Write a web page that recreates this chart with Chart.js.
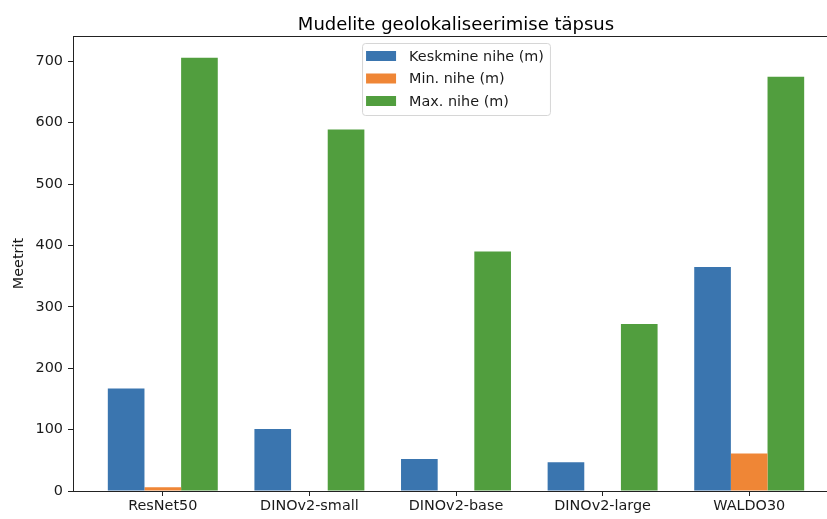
<!DOCTYPE html>
<html>
<head>
<meta charset="utf-8">
<script src="https://cdn.jsdelivr.net/npm/chart.js@4/dist/chart.umd.min.js"></script>
<style>
html, body { margin: 0; padding: 0; overflow: hidden; background: #fff; }
#wrap { width: 839px; height: 519px; }
</style>
</head>
<body>
<div id="wrap"><canvas id="c" width="839" height="519"></canvas></div>
<script>
const categories = ["ResNet50", "DINOv2-small", "DINOv2-base", "DINOv2-large", "WALDO30"];
const meanShift = [167, 101, 52, 47, 365];
const minShift = [6, 0, 0, 0, 61];
const maxShift = [706, 589, 390, 272, 675];
const seriesLabels = ["Keskmine nihe (m)", "Min. nihe (m)", "Max. nihe (m)"];
const yTicks = [0, 100, 200, 300, 400, 500, 600, 700];
const chartTitle = "Mudelite geolokaliseerimise täpsus";
const yTitle = "Meetrit";

const colors = ["#3a75af", "#ef8636", "#519e3e"];
const FONT = "'DejaVu Sans', sans-serif";
const TXT = "#1a1a1a";
const FS = 14.4;

const toPts = arr => arr.map((v, i) => ({ x: i, y: v }));

const framePlugin = {
  id: 'frame',
  afterDraw(chart) {
    const { ctx, chartArea: a } = chart;
    ctx.save();
    ctx.strokeStyle = '#222';
    ctx.lineWidth = 1;
    ctx.strokeRect(Math.round(a.left) + 0.5, Math.round(a.top) + 0.5, Math.round(a.right - a.left), Math.round(a.bottom - a.top));
    // title
    ctx.fillStyle = '#000';
    ctx.font = "18px " + FONT;
    ctx.textAlign = 'center';
    ctx.textBaseline = 'alphabetic';
    ctx.fillText(chartTitle, (a.left + a.right) / 2, 29.5);
    // legend
    ctx.font = FS + "px " + FONT;
    const ds = chart.data.datasets;
    let tw = 0;
    ds.forEach(d => { tw = Math.max(tw, ctx.measureText(d.label).width); });
    const W = 4 + 30 + 13 + tw + 6;
    const H = 72;
    const x0 = (a.left + a.right) / 2 - W / 2;
    const y0 = a.top + 7;
    ctx.beginPath();
    if (ctx.roundRect) ctx.roundRect(x0 + 0.5, y0 + 0.5, W, H, 3); else ctx.rect(x0 + 0.5, y0 + 0.5, W, H);
    ctx.fillStyle = 'rgba(255,255,255,0.85)';
    ctx.fill();
    ctx.strokeStyle = '#d6d6d6';
    ctx.stroke();
    ds.forEach((d, i) => {
      const cy = y0 + 13 + i * 22.5;
      ctx.fillStyle = d.backgroundColor;
      ctx.fillRect(x0 + 4, cy - 5, 30, 10);
      ctx.fillStyle = TXT;
      ctx.textAlign = 'left';
      ctx.textBaseline = 'middle';
      ctx.fillText(d.label, x0 + 47, cy + 1);
    });
    ctx.restore();
  }
};

new Chart(document.getElementById('c'), {
  type: 'bar',
  data: {
    datasets: [
      { label: seriesLabels[0], data: toPts(meanShift), backgroundColor: colors[0] },
      { label: seriesLabels[1], data: toPts(minShift), backgroundColor: colors[1] },
      { label: seriesLabels[2], data: toPts(maxShift), backgroundColor: colors[2] }
    ]
  },
  options: {
    responsive: false,
    animation: false,
    devicePixelRatio: 1,
    layout: { padding: { top: 36, left: 0, right: 0, bottom: 0 } },
    datasets: { bar: { categoryPercentage: 0.75, barPercentage: 1.0, borderWidth: 0 } },
    plugins: { legend: { display: false }, title: { display: false }, tooltip: { enabled: false } },
    scales: {
      x: {
        type: 'linear',
        min: -0.6125,
        max: 4.6125,
        offset: false,
        afterBuildTicks: axis => { axis.ticks = categories.map((_, i) => ({ value: i })); },
        afterFit: axis => { axis.height = 28; },
        ticks: {
          autoSkip: false,
          maxRotation: 0,
          padding: 2,
          color: TXT,
          font: { family: FONT, size: FS },
          callback: v => categories[v] ?? ''
        },
        grid: { offset: false, drawOnChartArea: false, drawTicks: true, tickLength: 5, color: '#222' },
        border: { display: true, color: '#222' }
      },
      y: {
        type: 'linear',
        min: 0,
        max: 741.3,
        afterBuildTicks: axis => { axis.ticks = yTicks.map(v => ({ value: v })); },
        afterFit: axis => { axis.width = 73; },
        ticks: {
          padding: 5,
          color: TXT,
          font: { family: FONT, size: FS }
        },
        title: {
          display: true,
          text: yTitle,
          color: TXT,
          font: { family: FONT, size: FS },
          padding: { top: 11, bottom: 0 }
        },
        grid: { drawOnChartArea: false, drawTicks: true, tickLength: 5, color: '#222' },
        border: { display: true, color: '#222' }
      }
    }
  },
  plugins: [framePlugin]
});
</script>
</body>
</html>
